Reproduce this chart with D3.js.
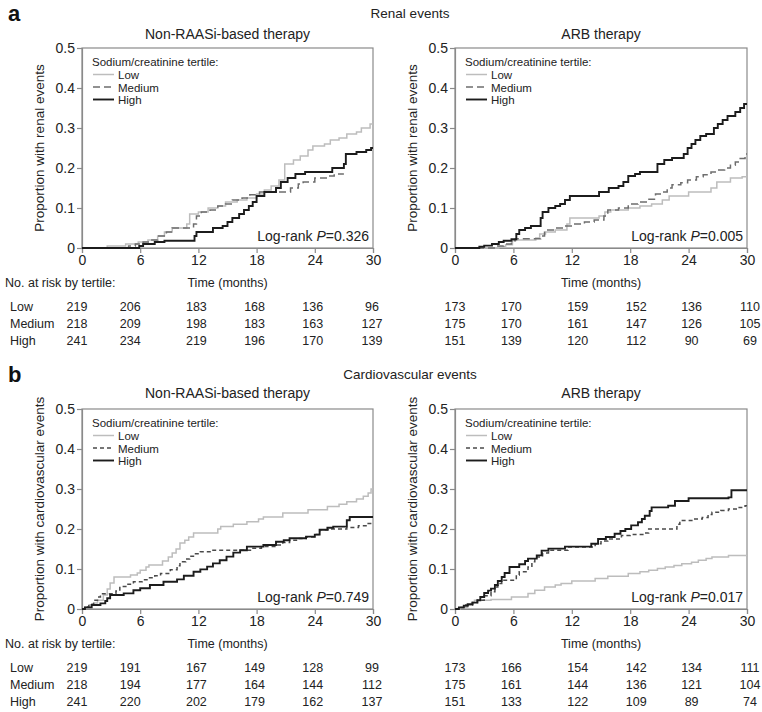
<!DOCTYPE html>
<html><head><meta charset="utf-8">
<script src="https://cdn.jsdelivr.net/npm/d3@7"></script>
<style>body{margin:0;background:#fff}svg{font-family:"Liberation Sans",Arial,Helvetica,sans-serif}</style>
</head><body><svg id="c" width="762" height="712"></svg>
<script>
// ---------- data ----------
const xTicks = [0, 6, 12, 18, 24, 30];
const yTicks = [0, 0.1, 0.2, 0.3, 0.4, 0.5];
const tertiles = ["Low", "Medium", "High"];
const sections = ["Renal events", "Cardiovascular events"];
const therapies = ["Non-RAASi-based therapy", "ARB therapy"];
const yLabels = ["Proportion with renal events", "Proportion with cardiovascular events"];
const pValues = ["0.326", "0.005", "0.749", "0.017"];

// step points [month, cumulative proportion]
const renalNonLow = [[2.6,0.005],[4.5,0.01],[5.8,0.015],[6.8,0.02],[7.8,0.03],[8.5,0.04],[9.3,0.05],[10.8,0.06],[11.1,0.085],[12,0.09],[13,0.1],[14,0.105],[14.8,0.115],[16,0.12],[17,0.125],[18,0.135],[18.8,0.145],[19.5,0.155],[20.3,0.17],[20.9,0.21],[21.8,0.22],[22.5,0.23],[23.3,0.245],[23.8,0.255],[25,0.26],[25.6,0.27],[26.5,0.275],[27.3,0.285],[28.3,0.29],[28.8,0.3],[29.7,0.31]];
const renalNonMed = [[4.8,0.005],[5.5,0.01],[6.3,0.015],[7.2,0.02],[7.8,0.03],[8.7,0.04],[9.3,0.05],[11.5,0.06],[11.8,0.08],[12.3,0.09],[13.2,0.095],[14,0.105],[14.8,0.11],[15.5,0.12],[16.5,0.125],[17.3,0.133],[18.3,0.14],[21,0.14],[21.5,0.15],[22.3,0.16],[22.8,0.165],[24,0.175],[25.3,0.18],[26,0.185]];
const renalNonHigh = [[5.9,0.005],[6.3,0.01],[7.5,0.015],[8.5,0.018],[11.6,0.03],[11.8,0.04],[13.5,0.05],[14.5,0.055],[15,0.065],[15.5,0.075],[16.2,0.085],[16.7,0.095],[17.2,0.105],[17.6,0.115],[18,0.13],[18.8,0.14],[20,0.15],[20.5,0.165],[21.2,0.175],[22,0.185],[23,0.19],[25.8,0.2],[27,0.21],[27.2,0.235],[28.3,0.24],[29.3,0.245],[29.8,0.25]];
const renalArbLow = [[4.5,0.003],[5.2,0.008],[5.9,0.02],[8.3,0.025],[8.7,0.035],[9.3,0.04],[10.3,0.045],[11.5,0.06],[11.8,0.075],[14.8,0.08],[15.4,0.09],[16,0.095],[17.8,0.1],[19,0.105],[20.2,0.11],[21.3,0.12],[22,0.13],[24,0.14],[26.3,0.15],[26.9,0.165],[28.3,0.175],[29.5,0.178]];
const renalArbMed = [[4.3,0.005],[5,0.01],[5.8,0.018],[6.2,0.023],[8.8,0.03],[9.2,0.045],[10.3,0.05],[11.2,0.055],[12.3,0.06],[13.3,0.065],[14.3,0.07],[15.3,0.08],[15.7,0.095],[16.8,0.1],[17.8,0.11],[18.8,0.115],[19.8,0.122],[20.6,0.135],[21.2,0.14],[21.8,0.15],[22.3,0.158],[23.2,0.163],[23.9,0.17],[24.8,0.178],[25.5,0.183],[26.3,0.19],[26.9,0.195],[27.7,0.2],[28.3,0.207],[28.8,0.215],[29.3,0.224],[29.8,0.235]];
const renalArbHigh = [[2.5,0.003],[3,0.006],[3.8,0.01],[4.5,0.015],[5,0.018],[5.8,0.022],[6.3,0.035],[6.6,0.045],[7.2,0.05],[7.8,0.055],[8.8,0.075],[9,0.09],[9.6,0.1],[10.3,0.105],[10.8,0.11],[11.3,0.12],[11.8,0.13],[14.8,0.14],[15.8,0.15],[16.8,0.155],[17.3,0.165],[17.8,0.18],[18.5,0.185],[19,0.19],[20.8,0.21],[21.5,0.22],[22.3,0.225],[23.5,0.235],[23.9,0.25],[24.3,0.26],[24.7,0.27],[25.2,0.28],[25.8,0.285],[26.6,0.3],[27,0.31],[27.5,0.32],[28,0.33],[28.8,0.34],[29.3,0.35],[29.7,0.36]];
const cvNonLow = [[0.3,0.005],[0.8,0.01],[1.2,0.015],[1.6,0.022],[2.2,0.035],[2.6,0.05],[2.9,0.065],[3.3,0.08],[5,0.085],[5.7,0.09],[6,0.097],[6.6,0.105],[6.9,0.11],[8.3,0.12],[8.9,0.13],[9.3,0.14],[9.7,0.15],[10.1,0.165],[10.6,0.172],[11,0.18],[11.5,0.19],[14,0.2],[14.3,0.206],[15.6,0.212],[17,0.218],[18.2,0.225],[18.7,0.23],[20.7,0.24],[23.3,0.248],[25.3,0.256],[26.5,0.262],[27.3,0.268],[28.3,0.275],[29,0.282],[29.5,0.29],[29.8,0.3]];
const cvNonMed = [[0.3,0.005],[0.7,0.012],[1.2,0.022],[1.6,0.03],[1.9,0.038],[3.5,0.045],[3.9,0.056],[4.6,0.062],[5.3,0.068],[6.2,0.073],[6.7,0.078],[7.5,0.083],[8.1,0.089],[9.1,0.098],[9.8,0.108],[10.1,0.118],[10.7,0.125],[11.1,0.132],[11.7,0.138],[12.2,0.143],[13.3,0.147],[17.5,0.152],[18.5,0.156],[20,0.16],[20.7,0.166],[21.4,0.172],[22.3,0.176],[23.1,0.18],[24,0.186],[24.5,0.198],[25.5,0.2],[27.3,0.204],[28.5,0.208],[29.5,0.214]];
const cvNonHigh = [[0.3,0.004],[1,0.01],[1.9,0.014],[2.4,0.02],[2.6,0.027],[2.9,0.035],[4.3,0.039],[5.3,0.047],[6,0.052],[7,0.06],[8.4,0.068],[9.8,0.074],[10.5,0.083],[11.5,0.093],[12.2,0.099],[12.9,0.106],[13.5,0.114],[14.2,0.122],[14.9,0.131],[15.6,0.141],[16.3,0.147],[17,0.156],[18.7,0.16],[20,0.168],[20.8,0.172],[21.4,0.177],[23.1,0.181],[24,0.186],[24.5,0.198],[25.3,0.203],[25.9,0.206],[27.3,0.222],[27.6,0.23]];
const cvArbLow = [[0.5,0.003],[1.3,0.01],[1.7,0.016],[2,0.022],[3.7,0.024],[5.8,0.03],[7.5,0.039],[8.2,0.047],[9.2,0.055],[10.3,0.06],[10.9,0.064],[12,0.07],[14.4,0.076],[15.7,0.082],[17.8,0.089],[19,0.093],[19.9,0.097],[20.8,0.101],[21.6,0.105],[22.5,0.109],[23.3,0.113],[24.3,0.117],[25,0.122],[25.8,0.126],[26.4,0.13],[28.1,0.134]];
const cvArbMed = [[0.5,0.004],[1,0.01],[1.8,0.016],[2.3,0.022],[3,0.033],[3.7,0.043],[4.1,0.055],[4.4,0.064],[4.8,0.072],[6.3,0.085],[6.6,0.093],[7.5,0.105],[7.9,0.118],[8.2,0.13],[9,0.14],[9.6,0.147],[11.6,0.155],[14.4,0.163],[15,0.17],[15.7,0.175],[17.1,0.184],[18,0.186],[19.5,0.19],[19.9,0.2],[22.8,0.212],[23.1,0.221],[24.5,0.225],[25.4,0.229],[26,0.236],[26.4,0.242],[27.3,0.246],[28.1,0.25],[29,0.254],[29.8,0.258]];
const cvArbHigh = [[0.4,0.004],[0.9,0.008],[1.3,0.012],[1.8,0.016],[2.3,0.022],[2.6,0.03],[3,0.04],[3.4,0.046],[3.7,0.051],[4.1,0.06],[4.4,0.07],[4.8,0.08],[5.1,0.09],[5.6,0.105],[6.6,0.112],[7.2,0.12],[7.5,0.126],[8.4,0.134],[8.9,0.146],[9.6,0.151],[11.3,0.156],[14,0.163],[14.7,0.175],[15.5,0.18],[16.4,0.188],[17,0.195],[17.5,0.2],[18.1,0.209],[18.8,0.217],[19.2,0.225],[19.5,0.233],[20,0.245],[20.2,0.254],[21.9,0.258],[22.6,0.27],[24,0.277],[28.1,0.279],[28.4,0.297]];
// follow-up end (months) per series [Low, Medium, High]
const renalNonEnd = [30, 27, 30];
const otherEnd = [30, 30, 30];

// number at risk [Low, Medium, High] at xTicks
const riskRenalNon = [[219,206,183,168,136,96],[218,209,198,183,163,127],[241,234,219,196,170,139]];
const riskRenalArb = [[173,170,159,152,136,110],[175,170,161,147,126,105],[151,139,120,112,90,69]];
const riskCvNon = [[219,191,167,149,128,99],[218,194,177,164,144,112],[241,220,202,179,162,137]];
const riskCvArb = [[173,166,154,142,134,111],[175,161,144,136,121,104],[151,133,122,109,89,74]];

// ---------- layout ----------
const svg = d3.select("#c");
const FONT = '"Liberation Sans",Arial,Helvetica,sans-serif';
const cols = [[82, 373], [455, 747]];
const rows = [{top: 48, bot: 248, sec: "a", sub: 9}, {top: 409, bot: 609, sec: "b", sub: 11}];
const styles = [
  {stroke: "#bdbdbd", width: 1.5},
  {stroke: "#6e6e6e", width: 1.5},
  {stroke: "#1c1c1c", width: 1.9}
];
const panels = [
  {r: 0, c: 0, series: [renalNonLow, renalNonMed, renalNonHigh], ends: renalNonEnd, risk: riskRenalNon, p: pValues[0]},
  {r: 0, c: 1, series: [renalArbLow, renalArbMed, renalArbHigh], ends: otherEnd, risk: riskRenalArb, p: pValues[1]},
  {r: 1, c: 0, series: [cvNonLow, cvNonMed, cvNonHigh], ends: otherEnd, risk: riskCvNon, p: pValues[2]},
  {r: 1, c: 1, series: [cvArbLow, cvArbMed, cvArbHigh], ends: otherEnd, risk: riskCvArb, p: pValues[3]}
];

// section headers
rows.forEach((R, i) => {
  svg.append("text").attr("x", 8).attr("y", R.top - 27).attr("font-size", 22).attr("font-weight", "bold")
    .attr("fill", "#111").text(R.sec);
  svg.append("text").attr("x", 410).attr("y", R.top - 30).attr("text-anchor", "middle").attr("font-size", 13.5)
    .attr("fill", "#222").text(sections[i]);
});

panels.forEach(P => {
  const R = rows[P.r], C = cols[P.c];
  const x = d3.scaleLinear().domain([0, 30]).range(C);
  const y = d3.scaleLinear().domain([0, 0.5]).range([R.bot, R.top]);
  const g = svg.append("g");

  // subtitle
  g.append("text").attr("x", (C[0] + C[1]) / 2).attr("y", R.top - R.sub).attr("text-anchor", "middle")
    .attr("font-size", 14).attr("fill", "#222").text(therapies[P.c]);

  // y label
  g.append("text").attr("transform", `translate(${C[0] - 38},${(R.top + R.bot) / 2}) rotate(-90)`)
    .attr("text-anchor", "middle").attr("font-size", 13.5).attr("fill", "#222").text(yLabels[P.r]);

  // frame
  g.append("rect").attr("x", C[0]).attr("y", R.top).attr("width", C[1] - C[0]).attr("height", R.bot - R.top)
    .attr("fill", "none").attr("stroke", "#8a8a8a").attr("stroke-width", 1.2);

  const ya = g.append("g").attr("transform", `translate(${C[0]},0)`)
    .call(d3.axisLeft(y).tickValues(yTicks).tickSize(5).tickPadding(2)
      .tickFormat(d => d === 0 ? "0" : d3.format(".1f")(d)));
  const xa = g.append("g").attr("transform", `translate(0,${R.bot})`)
    .call(d3.axisBottom(x).tickValues(xTicks).tickSize(5).tickPadding(2));
  [ya, xa].forEach(a => {
    a.selectAll("path,line").attr("stroke", "#8a8a8a").attr("stroke-width", 1.2);
    a.selectAll("text").attr("font-size", 14).attr("fill", "#222").attr("font-family", FONT);
  });

  const medStroke = P.r === 1 ? "#4a4a4a" : styles[1].stroke;
  const medDash = P.r === 0 ? "7,4" : "4,3";

  // curves
  const line = d3.line().x(d => x(d[0])).y(d => y(d[1])).curve(d3.curveStepAfter);
  P.series.forEach((s, i) => {
    const last = s[s.length - 1][1];
    const pts = [[0, 0], ...s, [P.ends[i], last]];
    g.append("path").attr("d", line(pts)).attr("fill", "none")
      .attr("stroke", i === 1 ? medStroke : styles[i].stroke)
      .attr("stroke-width", styles[i].width).attr("stroke-dasharray", i === 1 ? medDash : null);
  });

  // legend
  const lx = C[0] + 11, ly = R.top + 18;
  g.append("text").attr("x", lx - 1).attr("y", ly).attr("font-size", 11.5).attr("fill", "#222")
    .text("Sodium/creatinine tertile:");
  tertiles.forEach((t, i) => {
    const yy = ly + 12.5 * (i + 1) - 4;
    g.append("line").attr("x1", lx).attr("x2", lx + 21).attr("y1", yy).attr("y2", yy)
      .attr("stroke", i === 1 ? medStroke : styles[i].stroke).attr("stroke-width", styles[i].width)
      .attr("stroke-dasharray", i === 1 ? medDash : null);
    g.append("text").attr("x", lx + 25).attr("y", yy + 4.5).attr("font-size", 11.5).attr("fill", "#222").text(t);
  });

  // log-rank
  const lr = g.append("text").attr("x", C[1] - 4).attr("y", R.bot - 7).attr("text-anchor", "end")
    .attr("font-size", 14).attr("fill", "#222");
  lr.append("tspan").text("Log-rank ");
  lr.append("tspan").attr("font-style", "italic").text("P");
  lr.append("tspan").text("=" + P.p);

  // number at risk table
  const hy = R.bot + 39;
  if (P.c === 0) {
    g.append("text").attr("x", 5).attr("y", hy).attr("font-size", 12.5).attr("fill", "#222").text("No. at risk by tertile:");
  }
  g.append("text").attr("x", (C[0] + C[1]) / 2).attr("y", hy).attr("text-anchor", "middle")
    .attr("font-size", 12.5).attr("fill", "#222").text("Time (months)");
  P.risk.forEach((row, ri) => {
    const ry = hy + 24 + ri * 17;
    if (P.c === 0) {
      g.append("text").attr("x", 10).attr("y", ry).attr("font-size", 12.5).attr("fill", "#222").text(tertiles[ri]);
    }
    row.forEach((v, k) => {
      const off = P.c === 0 ? [-5, -10, -2, -2, -2, -1][k] : [0, -2, 6, 6, 3, 3][k];
      g.append("text").attr("x", x(xTicks[k]) + off).attr("y", ry).attr("text-anchor", "middle")
        .attr("font-size", 12.5).attr("fill", "#222").text(v);
    });
  });
});
</script></body></html>
